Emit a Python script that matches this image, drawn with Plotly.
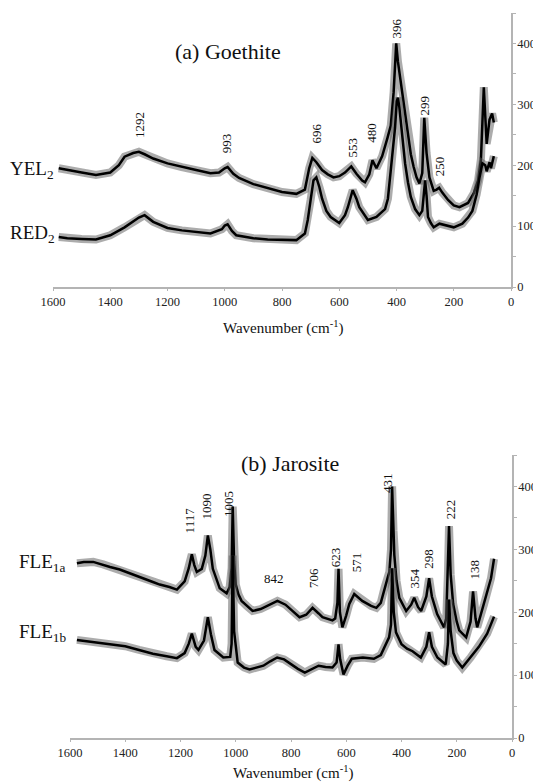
import plotly.graph_objects as go

# ---------------- data ----------------
# Panel (a) Goethite
yel2_wn = [1580,1550,1500,1450,1400,1370,1350,1320,1300,1280,1250,1200,1150,1100,1050,1020,1000,990,970,950,
           900,850,800,750,720,705,694,680,660,640,620,600,580,558,540,520,510,495,484,470,450,432,420,410,401,
           395,388,380,370,360,350,340,330,320,310,303,295,285,270,260,251,240,220,200,180,150,130,115,105,95,
           85,75,66,60]
yel2_val = [195,192,188,184,188,200,214,220,222,218,211,203,197,192,187,188,195,197,186,179,
            169,162,156,153,160,195,212,205,192,185,180,182,188,198,186,175,172,185,208,195,215,244,265,320,400,
            370,345,325,285,246,218,197,180,170,187,278,220,180,158,160,163,155,143,134,131,138,154,175,210,328,
            235,275,285,270]

red2_wn = [1580,1550,1500,1450,1400,1350,1300,1280,1250,1200,1150,1100,1050,1010,1000,990,975,960,900,850,
           800,750,720,710,700,690,680,670,660,645,630,600,580,570,553,540,530,500,470,440,430,420,412,405,399,
           395,390,385,378,370,360,350,335,320,310,305,300,295,290,280,270,250,220,200,170,150,135,120,110,100,
           90,85,75,70,60]
red2_val = [82,80,79,78,85,98,114,118,107,97,93,90,88,95,101,103,92,85,80,78,
            77,77,88,110,143,175,180,165,145,125,115,105,118,131,159,145,131,110,115,128,145,190,225,262,305,
            311,295,274,235,203,172,148,128,118,125,150,175,150,115,105,98,104,100,98,104,114,125,152,180,203,
            200,190,205,195,215]

# Panel (b) Jarosite
fle1a_wn = [1575,1550,1516,1480,1455,1420,1394,1360,1336,1300,1275,1240,1213,1185,1170,1159,1150,1141,1123,1110,
            1101,1092,1083,1058,1033,1022,1015,1011,1006,1000,990,979,960,939,910,888,860,849,820,794,769,745,
            722,700,686,650,640,632,628,623,614,600,589,571,542,510,491,475,462,450,444,438,434,429,426,418,408,
            383,365,354,340,329,310,300,290,271,246,238,232,228,222,213,200,191,166,150,141,132,126,101,76,65]
fle1a_val = [278,280,280,276,272,268,264,258,254,248,244,240,236,249,270,292,275,264,269,290,
             322,300,269,238,230,240,270,368,280,244,228,218,210,202,205,210,216,218,212,202,192,196,
             207,198,192,187,190,215,269,200,176,195,213,229,218,210,207,215,238,255,264,300,400,330,291,250,223,
             202,212,223,208,202,225,254,225,197,176,190,260,337,260,213,185,171,160,185,233,190,176,213,254,285]

fle1b_wn = [1575,1540,1500,1450,1400,1350,1300,1250,1213,1185,1170,1159,1145,1135,1115,1101,1090,1077,1045,1020,
            1015,1011,1006,993,970,950,925,900,875,850,825,800,775,750,725,700,675,650,635,628,622,610,595,580,
            540,500,475,460,445,438,434,428,420,400,380,360,330,310,300,290,270,240,232,228,222,212,200,180,150,
            120,90,65]
fle1b_val = [156,154,152,149,146,140,134,130,127,135,150,166,145,140,155,192,165,140,128,129,
             150,290,170,120,112,109,112,115,122,128,125,117,110,104,110,115,113,112,120,149,125,101,115,126,
             128,126,132,146,160,180,270,200,168,149,142,138,128,145,168,145,128,117,150,220,170,135,123,112,128,
             145,166,193]

x_ticks = [1600, 1400, 1200, 1000, 800, 600, 400, 200, 0]
y_ticks = [0, 100, 200, 300, 400]

peaks_a = [("1292", 1297, 241), ("993", 993, 216), ("696", 680, 233), ("553", 554, 210),
           ("480", 488, 234), ("396", 401, 405), ("299", 303, 279), ("250", 251, 179)]
peaks_b = [("1117", 1166, 322), ("1090", 1105, 344), ("1005", 1029, 348), ("706", 719, 236),
           ("623", 636, 269), ("571", 563, 261), ("431", 451, 387), ("354", 354, 235),
           ("298", 300, 266), ("222", 224, 345), ("138", 137, 249)]

# ---------------- figure ----------------
FONT = "Liberation Serif, Times New Roman, serif"
OFF = 8                      # page body margin of the browser
FW, FH = 541 - OFF, 782 - OFF

def fx(px):
    return (px - OFF) / FW

def fy(py):
    return 1 - (py - OFF) / FH

fig = go.Figure()

def add_spectrum(wn, val, xa, ya):
    fig.add_trace(go.Scatter(x=wn, y=val, mode="lines", xaxis=xa, yaxis=ya,
                             line=dict(color="rgba(90,90,90,0.5)", width=8),
                             hoverinfo="skip"))
    fig.add_trace(go.Scatter(x=wn, y=val, mode="lines", xaxis=xa, yaxis=ya,
                             line=dict(color="black", width=2.5)))

add_spectrum(yel2_wn, yel2_val, "x", "y")
add_spectrum(red2_wn, red2_val, "x", "y")
add_spectrum(fle1a_wn, fle1a_val, "x2", "y2")
add_spectrum(fle1b_wn, fle1b_val, "x2", "y2")

axcol = "#b4b4b4"
tickfont = dict(family=FONT, size=12.5, color="#222")
xcommon = dict(range=[1600, 0], tickvals=x_ticks, ticks="outside", ticklen=2, tickcolor=axcol,
               showline=True, linecolor=axcol, linewidth=1.5, showgrid=False, zeroline=False,
               automargin=False, tickfont=tickfont)
ycommon = dict(range=[0, 450], tickvals=y_ticks, side="right", ticks="outside", ticklen=2,
               tickcolor=axcol, showline=True, linecolor=axcol, linewidth=1.5, showgrid=False,
               zeroline=False, automargin=False, tickfont=tickfont,
               minor=dict(dtick=50, ticks="outside", ticklen=3, tickcolor=axcol))

fig.update_layout(
    width=FW, height=FH, margin=dict(l=0, r=0, t=0, b=0, autoexpand=False),
    font=dict(family=FONT, color="#111"),
    paper_bgcolor="white", plot_bgcolor="white", showlegend=False,
    xaxis=dict(domain=[fx(53), fx(511)], anchor="y", **xcommon),
    yaxis=dict(domain=[fy(287), fy(13)], anchor="x", **ycommon),
    xaxis2=dict(domain=[fx(70), fx(512)], anchor="y2", **xcommon),
    yaxis2=dict(domain=[fy(738), fy(455)], anchor="x2", **ycommon),
)

ann = []
for txt, x, y in peaks_a:
    ann.append(dict(text=txt, x=x, y=y, xref="x", yref="y", textangle=-90, showarrow=False,
                    xanchor="center", yanchor="bottom", font=dict(family=FONT, size=13, color="#111")))
for txt, x, y in peaks_b:
    ann.append(dict(text=txt, x=x, y=y, xref="x2", yref="y2", textangle=-90, showarrow=False,
                    xanchor="center", yanchor="bottom", font=dict(family=FONT, size=13, color="#111")))
ann.append(dict(text="842", x=860, y=253, xref="x2", yref="y2", showarrow=False,
                xanchor="center", yanchor="middle", font=dict(family=FONT, size=13, color="#111")))

def paper_text(txt, px, py, size, xanchor="center"):
    ann.append(dict(text=txt, x=fx(px), y=fy(py), xref="paper", yref="paper", showarrow=False,
                    xanchor=xanchor, yanchor="middle", font=dict(family=FONT, size=size, color="#111")))

paper_text("(a) Goethite", 228, 52, 22)
paper_text("(b) Jarosite", 290, 463, 22)
paper_text("YEL<sub>2</sub>", 8, 170, 19, "left")
paper_text("RED<sub>2</sub>", 8, 234, 19, "left")
paper_text("FLE<sub>1a</sub>", 17, 563, 19, "left")
paper_text("FLE<sub>1b</sub>", 17, 633, 19, "left")
paper_text("Wavenumber (cm<sup>-1</sup>)", 283, 327, 15)
paper_text("Wavenumber (cm<sup>-1</sup>)", 293, 772, 15)

fig.update_layout(annotations=ann)
fig.write_html("out.html")
